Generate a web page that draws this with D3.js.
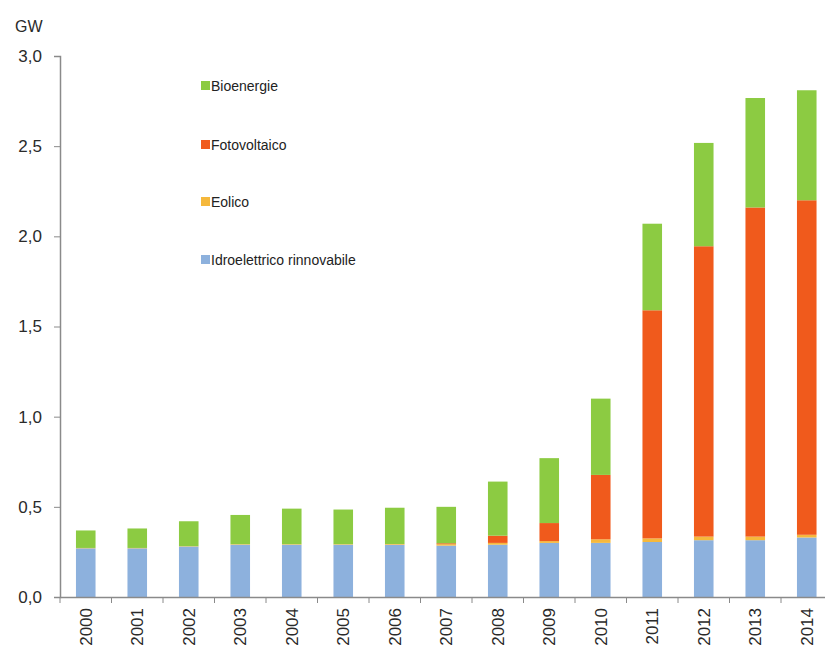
<!DOCTYPE html>
<html>
<head>
<meta charset="utf-8">
<script src="https://cdn.jsdelivr.net/npm/d3@7"></script>
<style>
  body { margin: 0; background: #fff; }
  svg { font-family: "Liberation Sans", Arial, sans-serif; }
</style>
</head>
<body>
<div id="chart"></div>
<script>
// years on the x axis
let years = ["2000","2001","2002","2003","2004","2005","2006","2007","2008","2009","2010","2011","2012","2013","2014"];

// GW per source
let idro   = [0.27, 0.27, 0.28, 0.29, 0.29, 0.29, 0.29, 0.285, 0.29, 0.30, 0.30, 0.305, 0.315, 0.315, 0.33];
let eolico = [0.002, 0.002, 0.002, 0.003, 0.003, 0.003, 0.004, 0.008, 0.01, 0.01, 0.02, 0.02, 0.02, 0.02, 0.015];
let fotov  = [0, 0, 0, 0, 0, 0, 0, 0.005, 0.04, 0.10, 0.357, 1.265, 1.61, 1.825, 1.855];
let bio    = [0.097, 0.108, 0.138, 0.162, 0.197, 0.192, 0.201, 0.202, 0.30, 0.36, 0.423, 0.48, 0.573, 0.607, 0.61];

let yTicks = [0, 0.5, 1.0, 1.5, 2.0, 2.5, 3.0];

let series = [
    {key: "idro",   label: "Idroelettrico rinnovabile", color: "#8db1dd", values: idro},
    {key: "eolico", label: "Eolico",                    color: "#f5b83c", values: eolico},
    {key: "fotov",  label: "Fotovoltaico",              color: "#f05a1c", values: fotov},
    {key: "bio",    label: "Bioenergie",                color: "#8ccb42", values: bio}
];

let width = 825, height = 654;
let marginLeft = 60, plotTop = 56, plotBottom = 597;
let plotRight = marginLeft + 15 * 51.5;

let svg = d3.select("#chart").append("svg")
    .attr("width", width)
    .attr("height", height);

let table = years.map((yr, i) => {
    let row = {year: yr};
    series.forEach(s => row[s.key] = s.values[i]);
    return row;
});

let stack = d3.stack().keys(series.map(s => s.key));
let layers = stack(table);

let x = d3.scaleBand()
    .domain(years)
    .range([marginLeft, plotRight])
    .paddingInner(0.62)
    .paddingOuter(0.31);

let y = d3.scaleLinear()
    .domain([0, 3])
    .range([plotBottom, plotTop]);

// bars
svg.append("g").selectAll("g")
    .data(layers)
    .join("g")
    .attr("fill", (d, i) => series[i].color)
    .selectAll("rect")
    .data(d => d)
    .join("rect")
    .attr("x", d => x(d.data.year))
    .attr("width", x.bandwidth())
    .attr("y", d => y(d[1]))
    .attr("height", d => Math.max(0, y(d[0]) - y(d[1])));

// y axis
let yAxis = svg.append("g")
    .attr("transform", `translate(${marginLeft},0)`)
    .call(d3.axisLeft(y)
        .tickValues(yTicks)
        .tickSize(6)
        .tickPadding(12)
        .tickFormat(d => d.toFixed(1).replace(".", ",")));
yAxis.select(".domain").attr("stroke", "#8a8a8a").attr("stroke-width", 1.5);
yAxis.selectAll(".tick line").attr("stroke", "#8a8a8a");
yAxis.selectAll(".tick text")
    .attr("font-size", 17)
    .attr("fill", "#2a2a2a");

// x axis
let xAxis = svg.append("g")
    .attr("transform", `translate(0,${plotBottom})`)
    .call(d3.axisBottom(x).tickSize(0).tickPadding(8));
xAxis.select(".domain").attr("stroke", "#8a8a8a").attr("stroke-width", 1.5);
xAxis.selectAll(".tick text")
    .attr("font-size", 17)
    .attr("fill", "#2a2a2a")
    .attr("transform", "rotate(-90)")
    .attr("text-anchor", "end")
    .attr("x", -11)
    .attr("y", 0)
    .attr("dy", "0.35em");

// tick marks between categories
let gap = (x.step() - x.bandwidth()) / 2;
svg.append("g").selectAll("line")
    .data(years)
    .join("line")
    .attr("x1", d => x(d) - gap)
    .attr("x2", d => x(d) - gap)
    .attr("y1", plotBottom)
    .attr("y2", plotBottom + 6)
    .attr("stroke", "#8a8a8a");

// unit label
svg.append("text")
    .attr("x", 15)
    .attr("y", 32)
    .attr("font-size", 16)
    .attr("fill", "#2a2a2a")
    .text("GW");

// legend, top to bottom in reverse stack order
let legendRows = [86, 145, 202, 260];
let legend = svg.append("g").selectAll("g")
    .data(series.slice().reverse())
    .join("g")
    .attr("transform", (d, i) => `translate(201,${legendRows[i]})`);
legend.append("rect")
    .attr("x", 0)
    .attr("y", -5)
    .attr("width", 9)
    .attr("height", 9)
    .attr("fill", d => d.color);
legend.append("text")
    .attr("x", 10)
    .attr("y", 0)
    .attr("dy", "0.35em")
    .attr("font-size", 14)
    .attr("fill", "#222")
    .text(d => d.label);
</script>
</body>
</html>
